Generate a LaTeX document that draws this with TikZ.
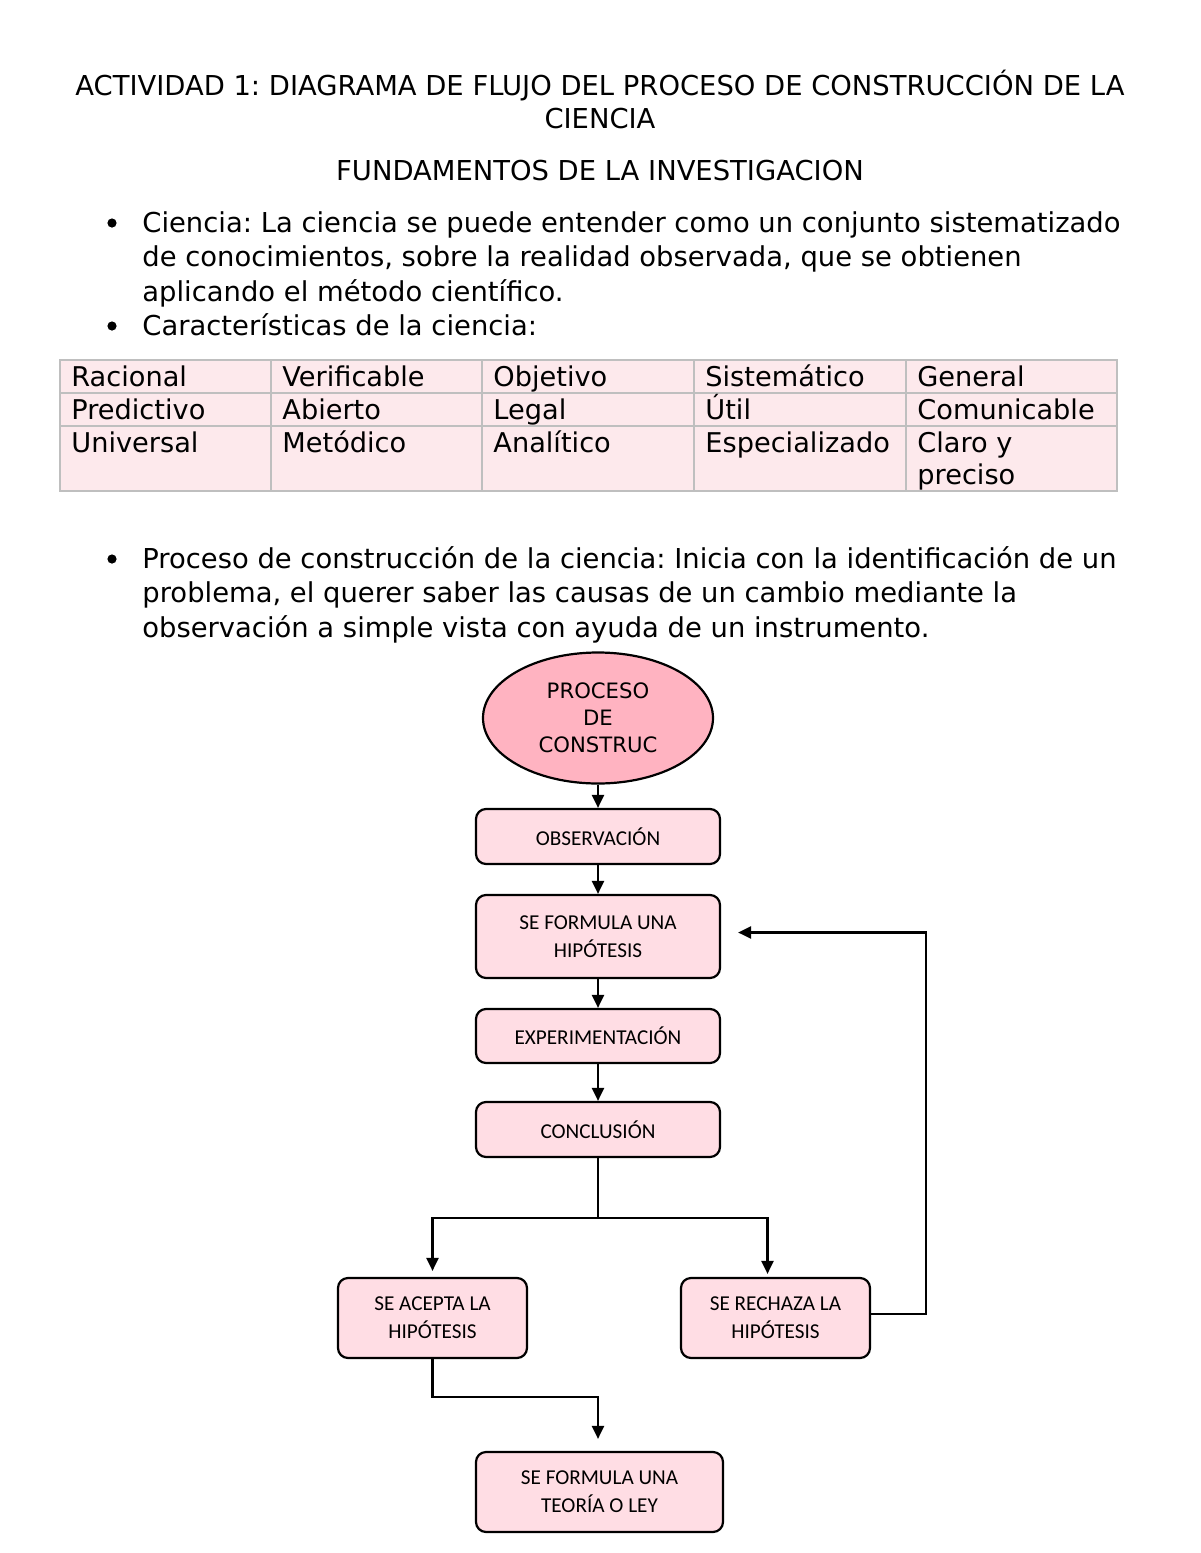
\documentclass[tikz,border=0pt]{standalone}
\usepackage{fontspec}
\setmainfont{DejaVu Sans}
\newfontfamily\calib{Carlito}
\usetikzlibrary{shapes.geometric,arrows.meta,calc}
\frenchspacing
\definecolor{ellpink}{RGB}{255,179,193}
\definecolor{boxpink}{RGB}{255,221,228}
\definecolor{tabpink}{RGB}{253,233,236}
\definecolor{tabgray}{RGB}{191,191,191}
\tikzset{
  bodytext/.style={anchor=base west,inner sep=0pt,font=\fontsize{13.7}{17}\selectfont},
  titletext/.style={anchor=base,inner sep=0pt,font=\fontsize{13.7}{17}\selectfont},
  celltext/.style={anchor=base west,inner sep=0pt,font=\fontsize{13.6}{17}\selectfont},
  bulletdot/.style={circle,fill=black,inner sep=0pt,minimum size=4.6pt},
  flowbox/.style={draw,line width=1.1pt,rounded corners=5pt,fill=boxpink,align=center,inner sep=0pt,
     font=\calib\fontsize{10.6}{14}\selectfont,minimum width=122pt},
  startell/.style={ellipse,draw,line width=1.1pt,fill=ellpink,align=center,inner sep=0pt,
     minimum width=115pt,minimum height=65.5pt,font=\fontsize{10.6}{13.5}\selectfont},
  arr/.style={line width=1.1pt,-{Triangle[length=6.5pt,width=6pt]}},
  conn/.style={line width=1.1pt}
}
\begin{document}
\begin{tikzpicture}[x=0.5pt,y=-0.5pt]
\fill[white] (0,0) rectangle (1200,1553);
\useasboundingbox (0,0) rectangle (1200,1553);

% Title
\node[titletext] (t1) at (600,95) {ACTIVIDAD 1: DIAGRAMA DE FLUJO DEL PROCESO DE CONSTRUCCIÓN DE LA};
\node[titletext] (t2) at (600,128) {CIENCIA};
\node[titletext] (t3) at (600,180) {FUNDAMENTOS DE LA INVESTIGACION};

% Bullets
\node[bulletdot] (b1) at (112,223) {};
\node[bodytext] (l1) at (142,232) {Ciencia: La ciencia se puede entender como un conjunto sistematizado};
\node[bodytext] (l2) at (142,266.5) {de conocimientos, sobre la realidad observada, que se obtienen};
\node[bodytext] (l3) at (142,301) {aplicando el método científico.};
\node[bulletdot] (b2) at (112,326) {};
\node[bodytext] (l4) at (142,335) {Características de la ciencia:};

% Table
\fill[tabpink] (60,360) rectangle (1117,491);
\draw[tabgray,line width=0.75pt] (60,360) rectangle (1117,491);
\foreach \y in {393,426} \draw[tabgray,line width=0.75pt] (60,\y) -- (1117,\y);
\foreach \x in {271,482,694,906} \draw[tabgray,line width=0.75pt] (\x,360) -- (\x,491);

\node[celltext] (c11) at (71,386) {Racional};
\node[celltext] (c12) at (282,386) {Verificable};
\node[celltext] (c13) at (493,386) {Objetivo};
\node[celltext] (c14) at (705,386) {Sistemático};
\node[celltext] (c15) at (917,386) {General};
\node[celltext] (c21) at (71,419) {Predictivo};
\node[celltext] (c22) at (282,419) {Abierto};
\node[celltext] (c23) at (493,419) {Legal};
\node[celltext] (c24) at (705,419) {Útil};
\node[celltext] (c25) at (917,419) {Comunicable};
\node[celltext] (c31) at (71,452) {Universal};
\node[celltext] (c32) at (282,452) {Metódico};
\node[celltext] (c33) at (493,452) {Analítico};
\node[celltext] (c34) at (705,452) {Especializado};
\node[celltext] (c35) at (917,452) {Claro y};
\node[celltext] (c35b) at (917,484) {preciso};

% Process paragraph
\node[bulletdot] (b3) at (112,559) {};
\node[bodytext] (p1) at (142,568) {Proceso de construcción de la ciencia: Inicia con la identificación de un};
\node[bodytext] (p2) at (142,602.5) {problema, el querer saber las causas de un cambio mediante la};
\node[bodytext] (p3) at (142,637) {observación a simple vista con ayuda de un instrumento.};

% Flowchart
\node[startell] (ell) at (598,718) {PROCESO\\DE\\CONSTRUC};
\node[flowbox,minimum height=27.5pt] (obs) at (598,836.5) {OBSERVACIÓN};
\node[flowbox,minimum height=41.5pt] (hyp) at (598,936.5) {SE FORMULA UNA\\HIPÓTESIS};
\node[flowbox,minimum height=27pt] (exp) at (598,1036) {EXPERIMENTACIÓN};
\node[flowbox,minimum height=27.5pt] (conc) at (598,1129.5) {CONCLUSIÓN};
\node[flowbox,minimum width=94.5pt,minimum height=40pt] (acc) at (432.5,1318) {SE ACEPTA LA\\HIPÓTESIS};
\node[flowbox,minimum width=94.5pt,minimum height=40pt] (rej) at (775.5,1318) {SE RECHAZA LA\\HIPÓTESIS};
\node[flowbox,minimum width=123.5pt,minimum height=40pt] (teo) at (599.5,1492) {SE FORMULA UNA\\TEORÍA O LEY};

\draw[arr] (ell.south) -- (obs.north);
\draw[arr] (obs.south) -- (hyp.north);
\draw[arr] (hyp.south) -- (exp.north);
\draw[arr] (exp.south) -- (conc.north);

\coordinate (split) at (598,1218);
\draw[conn] (conc.south) -- (split);
\draw[arr,shorten >=3pt] (split) -| (acc.north);
\draw[arr,shorten >=1.5pt] (split) -| ([xshift=-4pt]rej.north);

\coordinate (fbx) at (926,0);
\coordinate (hypin) at ([yshift=2pt]hyp.east);
\draw[arr,shorten >=8.5pt] ([yshift=2pt]rej.east) -| (fbx |- hypin) -- (hypin);

\coordinate (j2) at (598,1397);
\draw[arr,shorten >=6pt] (acc.south) |- (j2) -- (j2 |- teo.north);
\end{tikzpicture}
\end{document}
